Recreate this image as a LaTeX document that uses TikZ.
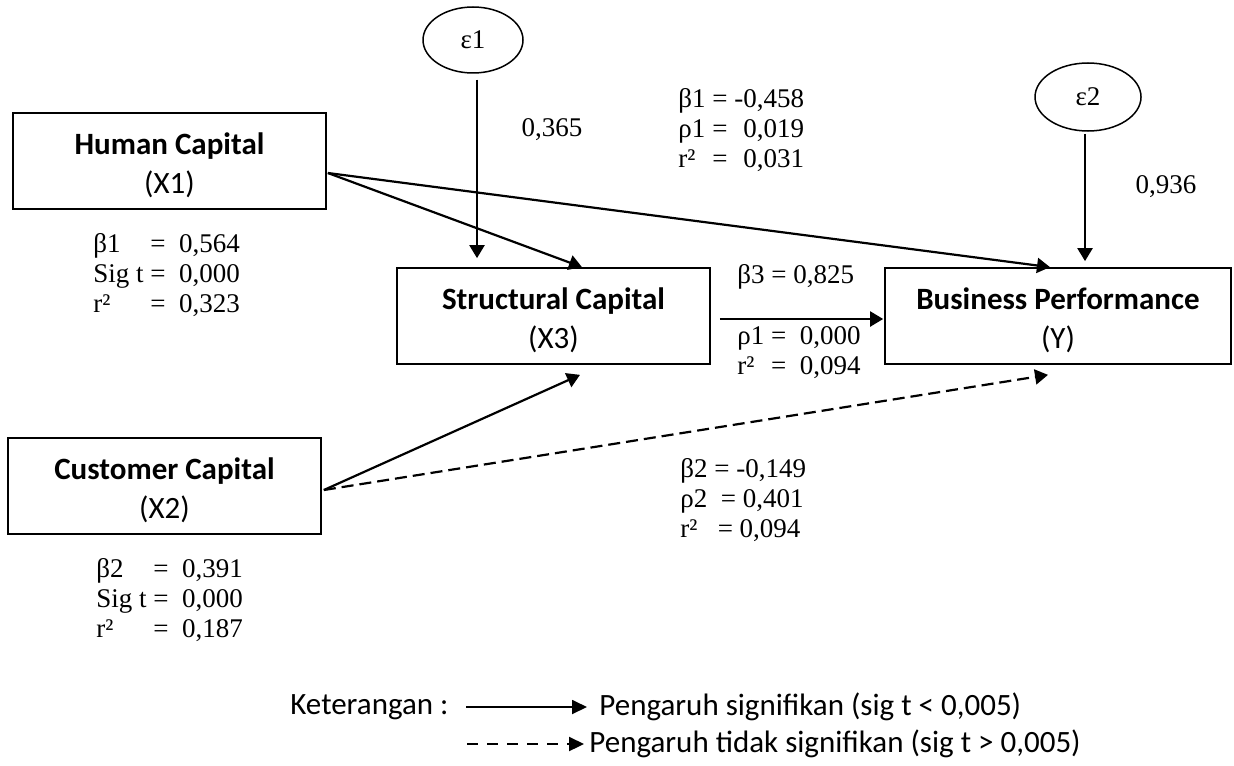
\documentclass[tikz,border=0pt]{standalone}
\usepackage{fontspec}
\setmainfont{Liberation Serif}
\newfontfamily\carlito{Carlito}
\usetikzlibrary{arrows.meta,calc,shapes.geometric}
\newcommand{\boxstrut}{\rule{0pt}{15pt}}
\begin{document}
\begin{tikzpicture}[x=0.5pt,y=-0.5pt,
  box/.style={draw, line width=0.85pt, minimum width=156.5pt, minimum height=48pt, align=center, inner sep=0pt, font=\carlito\fontsize{15.5}{19.5}\selectfont},
  err/.style={draw, ellipse, line width=0.75pt, minimum width=50pt, minimum height=33pt, inner sep=0pt, font=\fontsize{13.5}{15}\selectfont},
  stat/.style={inner sep=0pt, anchor=west, font=\fontsize{13.5}{15}\selectfont},
  arr/.style={line width=1.1pt, -{Triangle[length=6.5pt,width=7.5pt]}},
  dsh/.style={arr, dash pattern=on 6pt off 3pt},
  legarr/.style={line width=0.9pt, -{Triangle[length=7.5pt,width=7pt]}},
  legdsh/.style={legarr, line width=1.1pt, dash pattern=on 5.5pt off 4.5pt},
  leg/.style={inner sep=0pt, anchor=west, font=\carlito\fontsize{15.5}{19}\selectfont}]
\useasboundingbox (0,0) rectangle (1234,765);

% boxes
\node[box] (hc) at (169.5,161) {\boxstrut\textbf{Human Capital}\\(X1)};
\node[box] (sc) at (553.5,316) {\boxstrut\textbf{Structural Capital}\\(X3)};
\node[box, minimum width=173pt] (bp) at (1058,316) {\boxstrut\textbf{Business Performance}\\(Y)};
\node[box] (cc) at (164.5,486) {\boxstrut\textbf{Customer Capital}\\(X2)};
\node[err] (e1) at (473,40) {ε1};
\node[err, minimum width=53pt, minimum height=34pt] (e2) at (1088,97) {ε2};

% connectors
\draw[arr, shorten <=3pt, shorten >=4.5pt] ($(e1.south)+(4,0)$) -- ($(e1.south |- sc.north)+(4,0)$);
\draw[arr, shorten <=1pt, shorten >=3pt] ($(e2.south)+(-3,0)$) -- ($(e2.south |- bp.north)+(-3,0)$);
\draw[arr] ($(hc.east)+(1,12)$) -- ($(sc.north)+(28.5,0)$);
\draw[arr] ($(hc.east)+(1,12)$) -- ($(bp.north)+(-8,0)$);
\draw[arr] ($(sc.east)+(9,3)$) -- ($(bp.west)+(-1,3)$);
\draw[arr] ($(cc.east)+(2,4)$) -- ($(sc.south)+(26.5,10)$);
\draw[dsh] ($(cc.east)+(2,4)$) -- ($(bp.south)+(-10,10)$);

% labels
\node[stat, anchor=center] (l365) at (552,130) {0,365};
\node[stat, anchor=center] (l936) at (1166,187) {0,936};
\node[stat] (hcs) at (93,276) {\begin{tabular}{@{}l@{\ }l@{}}β1 & = \ 0,564\\ Sig t & = \ 0,000\\ r² & = \ 0,323\end{tabular}};
\node[stat] (ccs) at (96,601) {\begin{tabular}{@{}l@{\ }l@{}}β2 & = \ 0,391\\ Sig t & = \ 0,000\\ r² & = \ 0,187\end{tabular}};
\node[stat] (hbs) at (678,131) {\begin{tabular}{@{}l@{ }c@{ }r@{}}β1 & = & -0,458\\ ρ1 & = & 0,019\\ r² & = & 0,031\end{tabular}};
\node[stat] (b3) at (737,277) {β3 = 0,825};
\node[stat] (sbs) at (737,353) {\begin{tabular}{@{}l@{ }c@{\ \ }r@{}}ρ1 & = & 0,000\\ r² & = & 0,094\end{tabular}};
\node[stat] (cbs) at (680,501) {\begin{tabular}{@{}l@{}}β2 = -0,149\\ ρ2 \ = 0,401\\ r² \ \ = 0,094\end{tabular}};

% legend
\node[leg] (ket) at (290,707) {Keterangan :};
\node[leg] (l1) at (599,707) {Pengaruh signifikan (sig t < 0,005)};
\node[leg] (l2) at (589,744) {Pengaruh tidak signifikan (sig t > 0,005)};
\coordinate (a1) at (466,707);
\coordinate (a2) at (467,744);
\draw[legarr] (a1) -- ($(l1.west)+(-12,0)$);
\draw[legdsh] (a2) -- ($(l2.west)+(-5,0)$);
\end{tikzpicture}
\end{document}
